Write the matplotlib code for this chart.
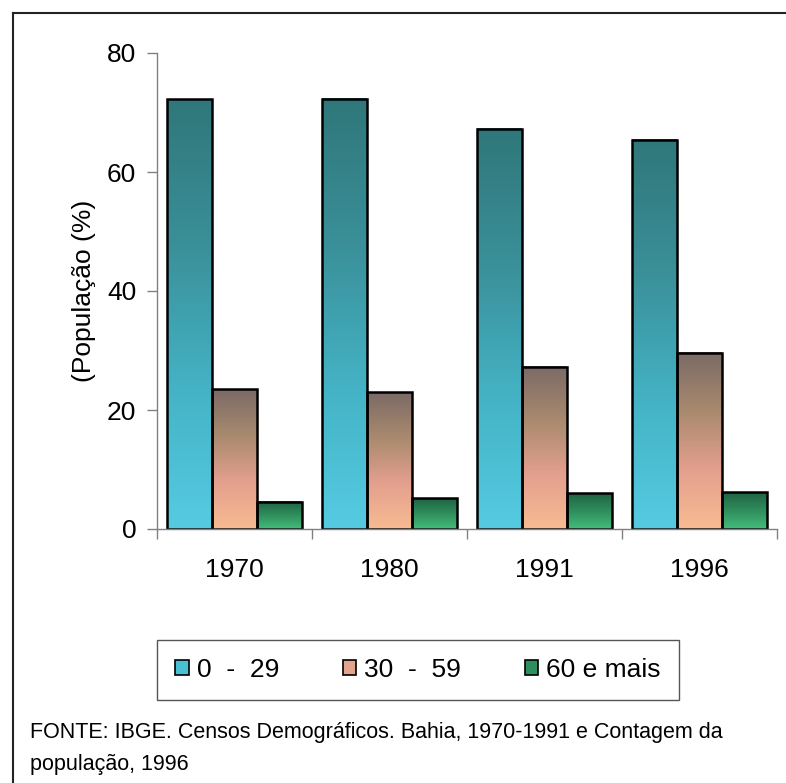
import numpy as np
import matplotlib
matplotlib.use('Agg')
from matplotlib import pyplot as plt
from matplotlib import colors
from matplotlib.patches import Patch
from matplotlib.lines import Line2D

# data
anos = ['1970', '1980', '1991', '1996']
faixas = ['0  -  29', '30  -  59', '60 e mais']
pop_0_29 = [72.2, 72.3, 67.3, 65.4]
pop_30_59 = [23.5, 23.0, 27.3, 29.6]
pop_60_mais = [4.6, 5.2, 6.0, 6.2]
fonte = ('FONTE: IBGE. Censos Demográficos. Bahia, 1970-1991 e Contagem da\n'
         'população, 1996')

# bottom -> top colours of each gradient
grad_cores = [['#55cbe2', '#44b2c4', '#3a8f98', '#2f777a'],
              ['#f7bb92', '#e4a08e', '#a98a6e', '#7b6a66'],
              ['#43bd7a', '#2f8e5c', '#1f6343']]
leg_cores = ['#48bfd3', '#e2a48c', '#2e8f5e']


def gradient_bars(ax, bars, cmap):
    grad = np.linspace(0, 1, 256).reshape(-1, 1)
    for bar in bars:
        x, y = bar.get_xy()
        w, h = bar.get_width(), bar.get_height()
        ax.imshow(grad, extent=[x, x + w, y, y + h], origin='lower',
                  cmap=cmap, aspect='auto', zorder=1.5)
        bar.set_facecolor('none')


def main():
    plt.rcParams['font.family'] = ['Liberation Sans', 'DejaVu Sans']

    fig = plt.figure(figsize=(7.86, 7.83), dpi=100)
    ax = fig.add_axes([157 / 786, 1 - 529 / 783, 620 / 786, 476 / 783])

    x = np.arange(len(anos))
    w = 0.29
    series = [pop_0_29, pop_30_59, pop_60_mais]
    for i, vals in enumerate(series):
        bars = ax.bar(x + (i - 1) * w, vals, width=w, edgecolor='black',
                      linewidth=1.8, zorder=2)
        cmap = colors.LinearSegmentedColormap.from_list('g%d' % i, grad_cores[i])
        gradient_bars(ax, bars, cmap)

    ax.set_xlim(-0.5, len(anos) - 0.5)
    ax.set_ylim(0, 80)
    ax.set_yticks([0, 20, 40, 60, 80])
    ax.set_xticks(np.arange(len(anos) + 1) - 0.5)
    ax.set_xticklabels([])
    ax.set_xticks(x, minor=True)
    ax.set_xticklabels(anos, minor=True)
    ax.tick_params(axis='both', which='major', direction='out', length=7,
                   width=1, color='#808080', labelsize=19, pad=8)
    ax.tick_params(axis='x', which='minor', length=0, labelsize=19, pad=21)

    for s in ['top', 'right']:
        ax.spines[s].set_visible(False)
    for s in ['left', 'bottom']:
        ax.spines[s].set_color('#808080')
        ax.spines[s].set_linewidth(1)

    ax.set_ylabel('(População (%)', fontsize=19, labelpad=8)

    handles = [Patch(facecolor=c, edgecolor='black', linewidth=1.2) for c in leg_cores]
    leg = fig.legend(handles=handles, labels=faixas, ncol=3, mode='expand',
                     loc='center', fontsize=19, borderaxespad=0,
                     bbox_to_anchor=(157 / 786, 1 - 703 / 783, 522 / 786, 66 / 783),
                     handlelength=0.5, handleheight=0.5, handletextpad=0.3,
                     fancybox=False, framealpha=1, borderpad=0.7)
    leg.get_frame().set_edgecolor('#555555')
    leg.get_frame().set_linewidth(1)

    fig.text(30 / 786, 1 - 722 / 783, fonte, fontsize=15.5, va='top',
             ha='left', linespacing=1.7)

    # page frame (left and top edges)
    fig.add_artist(Line2D([13 / 786, 13 / 786], [0, 1 - 13 / 783],
                          transform=fig.transFigure, color='#222222', lw=1.5))
    fig.add_artist(Line2D([13 / 786, 1], [1 - 13 / 783, 1 - 13 / 783],
                          transform=fig.transFigure, color='#222222', lw=1.5))

    fig.savefig('out.png', dpi=100, facecolor='white')


if __name__ == '__main__':
    main()
